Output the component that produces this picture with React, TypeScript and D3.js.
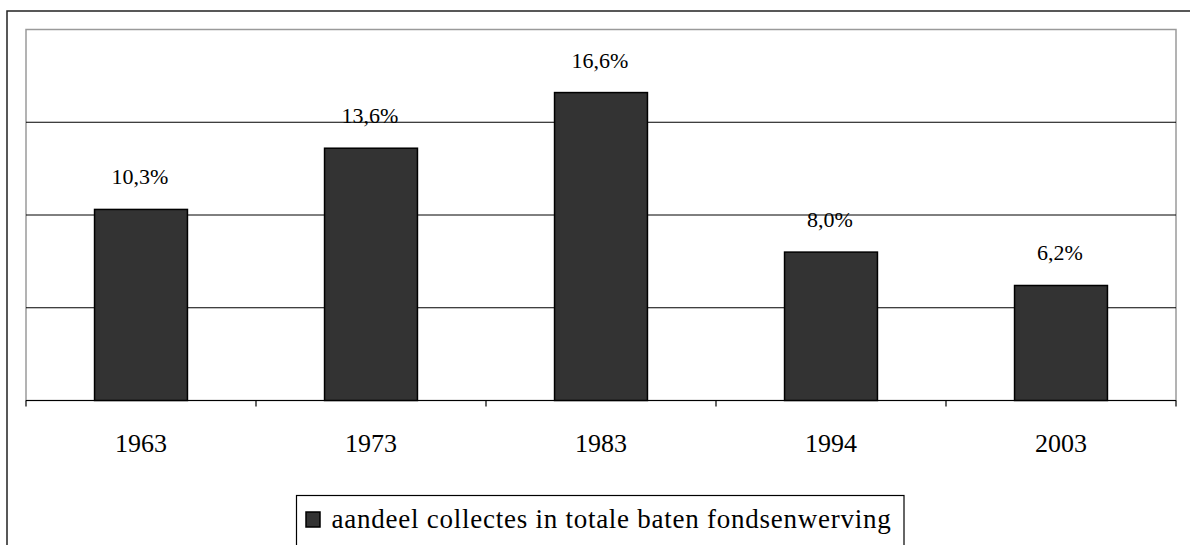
import React from "react";
import * as d3 from "d3";

const categories: string[] = ["1963", "1973", "1983", "1994", "2003"];
const values: number[] = [10.3, 13.6, 16.6, 8.0, 6.2];
const valueLabels: string[] = ["10,3%", "13,6%", "16,6%", "8,0%", "6,2%"];
const gridTicks: number[] = [5, 10, 15];
const legendLabel = "aandeel collectes in totale baten fondsenwerving";

const W = 1190;
const H = 545;
const plot = { left: 26, right: 1176, top: 29.5, bottom: 400.5 };
const FONT = '"Liberation Serif", "DejaVu Serif", serif';

export default function App() {
  const x = d3
    .scaleBand<string>()
    .domain(categories)
    .range([plot.left, plot.right])
    .paddingInner(0.596)
    .paddingOuter(0.298);
  const band = d3.scaleBand<string>().domain(categories).range([plot.left, plot.right]);
  const y = d3.scaleLinear().domain([0, 20]).range([plot.bottom, plot.top]);

  const tickXs = [...categories.map((c) => band(c) as number), plot.right];
  const textStyle = { fontFamily: FONT };

  return (
    <svg
      width={W}
      height={H}
      style={{ position: "absolute", left: 0, top: 0, background: "#fff" }}
    >
      {/* outer chart frame */}
      <rect x={7} y={11} width={W + 10} height={H + 10} fill="#fff" stroke="#222" strokeWidth={1.5} />

      {/* plot area border */}
      <rect
        x={plot.left}
        y={plot.top}
        width={plot.right - plot.left}
        height={plot.bottom - plot.top}
        fill="#fff"
        stroke="#9a9a9a"
        strokeWidth={1.5}
      />

      {/* gridlines */}
      {gridTicks.map((t) => (
        <line key={t} x1={plot.left} x2={plot.right} y1={y(t)} y2={y(t)} stroke="#000" strokeWidth={1} />
      ))}

      {/* bars */}
      {categories.map((c, i) => (
        <rect
          key={c}
          x={x(c)}
          y={y(values[i])}
          width={x.bandwidth()}
          height={y(0) - y(values[i])}
          fill="#333333"
          stroke="#000"
          strokeWidth={1.5}
        />
      ))}

      {/* value labels */}
      {categories.map((c, i) => (
        <text
          key={c}
          x={(x(c) as number) + x.bandwidth() / 2 - 1}
          y={y(values[i]) - 25}
          textAnchor="middle"
          style={textStyle}
          fontSize={22}
          fill="#000"
        >
          {valueLabels[i]}
        </text>
      ))}

      {/* x axis */}
      <line x1={plot.left} x2={plot.right} y1={plot.bottom} y2={plot.bottom} stroke="#000" strokeWidth={1.2} />
      {tickXs.map((tx, i) => (
        <line key={i} x1={tx} x2={tx} y1={plot.bottom} y2={plot.bottom + 6} stroke="#000" strokeWidth={1.2} />
      ))}
      {categories.map((c) => (
        <text
          key={c}
          x={(band(c) as number) + band.bandwidth() / 2}
          y={452}
          textAnchor="middle"
          style={textStyle}
          fontSize={26}
          fill="#000"
        >
          {c}
        </text>
      ))}

      {/* legend */}
      <rect x={296.5} y={495.5} width={607.5} height={60} fill="#fff" stroke="#000" strokeWidth={1.2} />
      <rect x={306} y={512} width={14} height={15} fill="#333333" stroke="#000" strokeWidth={1.5} />
      <text x={331.5} y={528} style={textStyle} fontSize={27} letterSpacing={0.75} fill="#000">
        {legendLabel}
      </text>
    </svg>
  );
}
